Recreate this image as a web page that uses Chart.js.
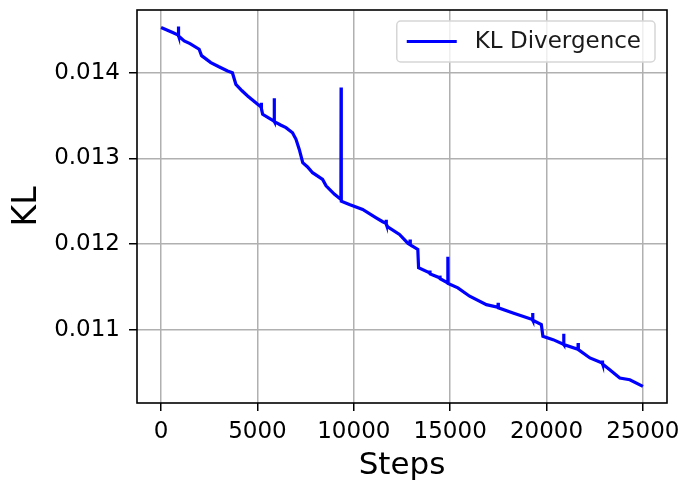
<!DOCTYPE html>
<html>
<head>
<meta charset="utf-8">
<script src="https://cdn.jsdelivr.net/npm/chart.js@4/dist/chart.umd.min.js"></script>
<style>
  html, body { margin: 0; padding: 0; background: #fff; }
  canvas { display: block; }
</style>
</head>
<body>
<canvas id="klChart" width="683" height="489"></canvas>
<script>
// values (spikes are base / peak / base triples)
const steps = [
  0, 300, 600, 890, 900, 910, 1200, 1500, 1975, 2100,
  2580, 3000, 3450, 3700, 3880, 4200, 4490, 5010, 5190, 5200,
  5210, 5270, 5600, 5860, 5870, 5880, 6200, 6480, 6820, 7000,
  7170, 7350, 7600, 7860, 8380, 8560, 9000, 9330, 9340, 9350,
  9770, 10460, 11160, 11500, 11670, 11680, 11690, 11760, 12370, 12800,
  12910, 12920, 12930, 13320, 13360, 13940, 13950, 13960, 14460, 14470,
  14480, 14870, 14880, 14890, 15400, 16010, 16880, 17480, 17490, 17500,
  18260, 19270, 19280, 19290, 19730, 19810, 20340, 20880, 20890, 20900,
  21630, 21640, 21650, 22250, 22890, 22900, 22910, 23280, 23800, 24320,
  25000
];
const kl = [
  0.014529, 0.014500, 0.014470, 0.014440, 0.014540, 0.014430, 0.014372, 0.014340, 0.014275, 0.014200,
  0.014119, 0.014070, 0.014021, 0.014000, 0.013865, 0.013790, 0.013729, 0.013632, 0.013600, 0.013651,
  0.013580, 0.013515, 0.013470, 0.013436, 0.013702, 0.013430, 0.013390, 0.013359, 0.013300, 0.013222,
  0.013105, 0.012950, 0.012900, 0.012833, 0.012754, 0.012680, 0.012580, 0.012520, 0.013827, 0.012500,
  0.012462, 0.012404, 0.012306, 0.012260, 0.012240, 0.012283, 0.012230, 0.012200, 0.012111, 0.012010,
  0.011994, 0.012053, 0.011990, 0.011936, 0.011722, 0.011663, 0.011690, 0.011650, 0.011605, 0.011630,
  0.011595, 0.011546, 0.011850, 0.011540, 0.011488, 0.011390, 0.011292, 0.011262, 0.011312, 0.011254,
  0.011195, 0.011117, 0.011195, 0.011110, 0.011058, 0.010922, 0.010883, 0.010830, 0.010953, 0.010825,
  0.010770, 0.010844, 0.010766, 0.010669, 0.010610, 0.010640, 0.010600, 0.010532, 0.010435, 0.010415,
  0.010337
];
const xTicks = [0, 5000, 10000, 15000, 20000, 25000];
const yTicks = [0.011, 0.012, 0.013, 0.014];

const FONT = "'DejaVu Sans', sans-serif";

// matplotlib-like frame and legend box
const framePlugin = {
  id: 'frame',
  afterDraw(chart) {
    const { ctx, chartArea: a } = chart;
    ctx.save();
    ctx.strokeStyle = '#000';
    ctx.lineWidth = 1.6;
    ctx.strokeRect(a.left, a.top, a.right - a.left, a.bottom - a.top);

    const ds = chart.data.datasets[0];
    ctx.font = '23px ' + FONT;
    const tw = ctx.measureText(ds.label).width;
    const w = 78 + tw + 14, h = 41;
    const x = a.right - 12 - w, y = a.top + 11;
    ctx.beginPath();
    ctx.roundRect(x, y, w, h, 4);
    ctx.fillStyle = 'rgba(255,255,255,0.8)';
    ctx.fill();
    ctx.strokeStyle = '#d6d6d6';
    ctx.lineWidth = 1.5;
    ctx.stroke();
    ctx.beginPath();
    ctx.moveTo(x + 10, y + h / 2);
    ctx.lineTo(x + 60, y + h / 2);
    ctx.strokeStyle = ds.borderColor;
    ctx.lineWidth = 3;
    ctx.stroke();
    ctx.fillStyle = '#1a1a1a';
    ctx.textBaseline = 'middle';
    ctx.fillText(ds.label, x + 78, y + h / 2 + 1);
    ctx.restore();
  }
};

new Chart(document.getElementById('klChart'), {
  type: 'line',
  data: {
    datasets: [{
      label: 'KL Divergence',
      data: steps.map((s, i) => ({ x: s, y: kl[i] })),
      borderColor: '#0000ff',
      borderWidth: 3.2,
      pointRadius: 0,
      tension: 0,
      fill: false
    }]
  },
  options: {
    responsive: false,
    animation: false,
    devicePixelRatio: 1,
    layout: { padding: { left: 0, top: 10, right: 16, bottom: 0 } },
    plugins: { legend: { display: false }, tooltip: { enabled: false } },
    scales: {
      x: {
        type: 'linear',
        min: -1250,
        max: 26250,
        afterBuildTicks: (scale) => { scale.ticks = xTicks.map(v => ({ value: v })); },
        afterFit: (scale) => {
          scale.height = 86;
          scale.paddingLeft = 0;
          scale.paddingRight = 0;
        },
        grid: { color: '#b0b0b0', lineWidth: 1.5, tickColor: '#000', tickLength: 8, tickWidth: 1.5 },
        border: { display: false },
        ticks: {
          color: '#000', padding: 7, maxRotation: 0, autoSkip: false,
          font: { family: FONT, size: 23 },
          callback: (v) => String(v)
        },
        title: {
          display: true, text: 'Steps', color: '#000',
          font: { family: FONT, size: 31 }, padding: { top: 0, bottom: 4 }
        }
      },
      y: {
        type: 'linear',
        min: 0.010143,
        max: 0.014733,
        afterBuildTicks: (scale) => { scale.ticks = yTicks.map(v => ({ value: v })); },
        afterFit: (scale) => {
          scale.width = 137;
          scale.paddingTop = 0;
          scale.paddingBottom = 0;
        },
        grid: { color: '#b0b0b0', lineWidth: 1.5, tickColor: '#000', tickLength: 8, tickWidth: 1.5 },
        border: { display: false },
        ticks: {
          color: '#000', padding: 9, autoSkip: false,
          font: { family: FONT, size: 23 },
          callback: (v) => v.toFixed(3)
        },
        title: {
          display: true, text: 'KL', color: '#000',
          font: { family: FONT, size: 33 }, padding: { top: 8, bottom: 0 }
        }
      }
    }
  },
  plugins: [framePlugin]
});
</script>
</body>
</html>
